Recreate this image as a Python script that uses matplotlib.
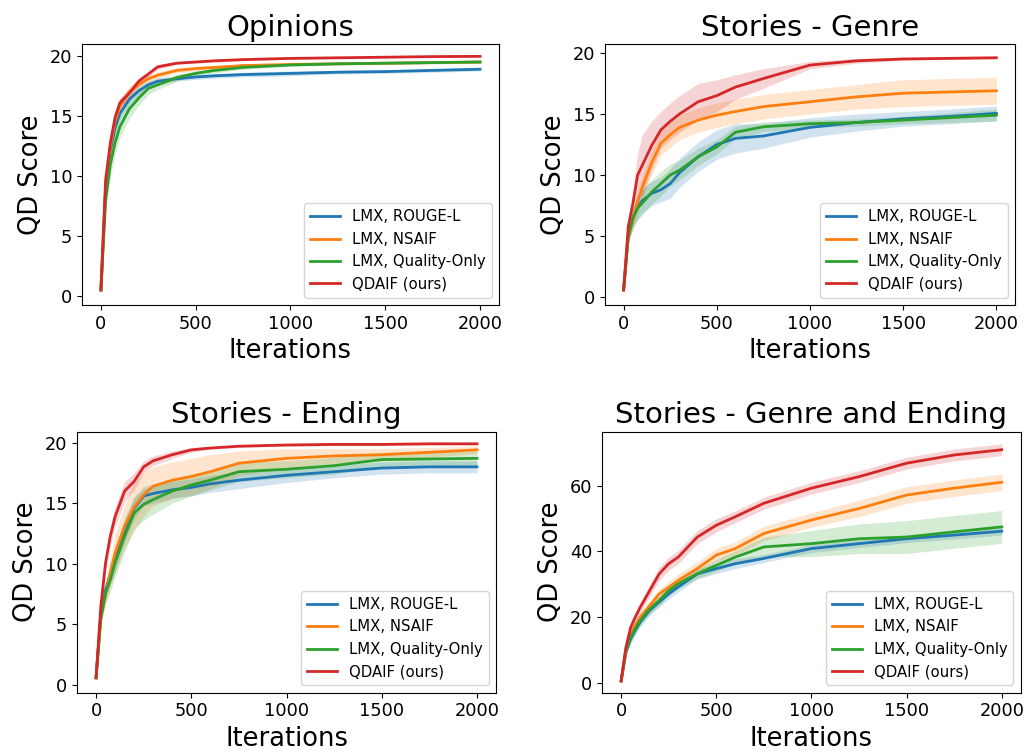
import numpy as np
import matplotlib
matplotlib.use('Agg')
import matplotlib.pyplot as plt

iters = [0, 25, 50, 75, 100, 150, 200, 250, 300, 400, 500, 600, 750, 1000, 1250, 1500, 1750, 2000]
labels = ['LMX, ROUGE-L', 'LMX, NSAIF', 'LMX, Quality-Only', 'QDAIF (ours)']
colors = ['#1f77b4', '#ff7f0e', '#2ca02c', '#d62728']

# Opinions
op_rouge = [0.5, 9.0, 12.2, 14.0, 15.2, 16.4, 17.1, 17.6, 17.9, 18.1, 18.25, 18.35, 18.45, 18.55, 18.65, 18.7, 18.8, 18.9]
op_nsaif = [0.5, 9.3, 12.5, 14.6, 15.8, 17.0, 17.6, 18.1, 18.4, 18.8, 18.95, 19.05, 19.2, 19.3, 19.35, 19.4, 19.45, 19.5]
op_quality = [0.5, 8.0, 11.0, 12.8, 14.1, 15.6, 16.5, 17.3, 17.6, 18.2, 18.55, 18.8, 19.05, 19.25, 19.35, 19.4, 19.45, 19.5]
op_qdaif = [0.5, 9.7, 12.8, 14.9, 16.1, 16.9, 17.9, 18.5, 19.1, 19.4, 19.5, 19.6, 19.7, 19.8, 19.85, 19.9, 19.95, 19.97]
op_rouge_sd = [0.1, 0.6, 0.6, 0.5, 0.5, 0.4, 0.4, 0.3, 0.3, 0.2, 0.2, 0.2, 0.2, 0.2, 0.15, 0.15, 0.15, 0.15]
op_nsaif_sd = [0.1, 0.6, 0.6, 0.6, 0.6, 0.5, 0.4, 0.3, 0.3, 0.2, 0.2, 0.15, 0.15, 0.1, 0.1, 0.1, 0.1, 0.1]
op_quality_sd = [0.1, 0.8, 1.0, 1.0, 0.9, 0.8, 0.6, 0.5, 0.4, 0.3, 0.2, 0.2, 0.15, 0.1, 0.1, 0.1, 0.1, 0.1]
op_qdaif_sd = [0.1, 0.5, 0.5, 0.5, 0.4, 0.4, 0.3, 0.2, 0.2, 0.1, 0.1, 0.1, 0.1, 0.05, 0.05, 0.05, 0.05, 0.05]

# Stories - Genre
sg_rouge = [0.6, 5.0, 6.5, 7.4, 7.9, 8.5, 8.8, 9.3, 10.2, 11.5, 12.5, 13.0, 13.2, 13.9, 14.3, 14.6, 14.8, 15.05]
sg_nsaif = [0.6, 5.0, 6.3, 7.8, 9.0, 11.0, 12.6, 13.3, 13.9, 14.5, 14.9, 15.2, 15.6, 16.0, 16.4, 16.7, 16.8, 16.9]
sg_quality = [0.6, 5.0, 6.5, 7.3, 7.7, 8.6, 9.3, 10.0, 10.4, 11.5, 12.3, 13.5, 13.95, 14.2, 14.3, 14.5, 14.7, 14.9]
sg_qdaif = [0.6, 5.8, 7.7, 10.0, 10.8, 12.4, 13.7, 14.4, 15.0, 16.0, 16.5, 17.2, 17.9, 19.0, 19.35, 19.5, 19.55, 19.6]
sg_rouge_sd = [0.1, 0.5, 0.8, 1.0, 1.0, 1.0, 1.0, 1.2, 1.2, 1.2, 1.2, 1.2, 1.0, 0.8, 0.7, 0.6, 0.6, 0.6]
sg_nsaif_sd = [0.1, 0.5, 0.8, 1.0, 1.0, 1.0, 1.0, 1.0, 1.0, 1.0, 1.0, 1.0, 1.0, 1.0, 1.0, 1.1, 1.1, 1.1]
sg_quality_sd = [0.1, 0.5, 0.8, 1.0, 1.0, 1.0, 1.0, 0.9, 0.8, 0.7, 0.6, 0.5, 0.4, 0.3, 0.3, 0.3, 0.4, 0.5]
sg_qdaif_sd = [0.1, 0.6, 1.0, 1.8, 2.5, 2.0, 1.5, 1.5, 1.5, 1.5, 1.3, 1.0, 0.8, 0.3, 0.2, 0.1, 0.1, 0.1]

# Stories - Ending
se_rouge = [0.6, 5.8, 7.9, 9.1, 10.3, 12.8, 14.6, 15.6, 15.8, 16.1, 16.3, 16.6, 16.9, 17.3, 17.6, 17.9, 18.0, 18.0]
se_nsaif = [0.6, 5.5, 7.5, 9.3, 10.9, 13.1, 14.7, 15.7, 16.4, 16.9, 17.2, 17.6, 18.3, 18.7, 18.9, 19.0, 19.2, 19.4]
se_quality = [0.6, 5.5, 7.6, 8.7, 10.1, 12.3, 14.2, 14.9, 15.3, 16.0, 16.5, 16.9, 17.6, 17.8, 18.1, 18.6, 18.65, 18.7]
se_qdaif = [0.6, 6.5, 10.1, 12.3, 13.9, 16.0, 16.8, 18.0, 18.5, 19.0, 19.4, 19.55, 19.7, 19.8, 19.85, 19.85, 19.9, 19.9]
se_rouge_sd = [0.1, 0.4, 0.6, 0.8, 1.0, 1.0, 0.9, 0.8, 0.8, 0.7, 0.7, 0.7, 0.7, 0.6, 0.5, 0.5, 0.5, 0.5]
se_nsaif_sd = [0.1, 0.5, 0.8, 1.2, 1.5, 1.8, 2.0, 1.8, 1.6, 1.5, 1.5, 1.4, 1.0, 0.8, 0.6, 0.5, 0.4, 0.3]
se_quality_sd = [0.1, 0.5, 0.8, 1.0, 1.2, 1.3, 1.3, 1.3, 1.2, 1.0, 0.9, 0.8, 0.8, 0.7, 0.7, 0.6, 0.6, 0.6]
se_qdaif_sd = [0.1, 0.5, 0.7, 0.8, 0.8, 0.8, 0.7, 0.5, 0.4, 0.3, 0.2, 0.1, 0.1, 0.1, 0.1, 0.1, 0.1, 0.1]

# Stories - Genre and Ending
sge_rouge = [0.5, 9.3, 13.3, 16.0, 18.4, 22.0, 24.5, 27.0, 29.1, 33.1, 34.7, 36.2, 37.8, 40.8, 42.3, 43.8, 44.9, 46.1]
sge_nsaif = [0.5, 10.0, 14.8, 17.5, 19.9, 23.4, 27.0, 29.0, 31.1, 34.7, 38.8, 40.8, 45.4, 49.5, 53.0, 57.1, 59.2, 61.0]
sge_quality = [0.5, 9.5, 13.8, 16.5, 18.9, 22.4, 25.0, 28.0, 30.1, 33.1, 35.7, 38.2, 41.3, 42.3, 43.8, 44.3, 45.9, 47.4]
sge_qdaif = [0.5, 10.7, 16.8, 20.0, 22.9, 28.0, 33.1, 36.2, 38.2, 44.3, 47.9, 50.5, 54.6, 59.2, 62.7, 66.8, 69.3, 70.9]
sge_rouge_sd = [0.3, 1.0, 1.5, 1.5, 1.5, 1.5, 1.5, 1.5, 1.5, 1.5, 1.5, 1.5, 1.2, 1.2, 1.2, 1.2, 1.2, 1.2]
sge_nsaif_sd = [0.3, 1.0, 1.5, 1.5, 1.5, 1.5, 1.5, 1.8, 2.0, 2.0, 2.0, 2.0, 2.2, 2.2, 2.5, 2.5, 2.5, 2.5]
sge_quality_sd = [0.3, 1.0, 1.5, 1.5, 1.5, 1.5, 1.5, 1.5, 1.5, 1.5, 1.8, 2.0, 3.0, 4.0, 4.5, 5.0, 5.0, 5.0]
sge_qdaif_sd = [0.3, 1.0, 1.5, 1.5, 1.5, 1.8, 2.0, 2.0, 2.0, 2.0, 2.0, 1.8, 1.8, 1.8, 1.8, 1.8, 1.8, 1.8]

panels = [
    ('Opinions', [op_rouge, op_nsaif, op_quality, op_qdaif],
     [op_rouge_sd, op_nsaif_sd, op_quality_sd, op_qdaif_sd], (-0.75, 21.0), 5,
     [0.0795, 0.5966, 0.4045, 0.3452]),
    ('Stories - Genre', [sg_rouge, sg_nsaif, sg_quality, sg_qdaif],
     [sg_rouge_sd, sg_nsaif_sd, sg_quality_sd, sg_qdaif_sd], (-0.63, 20.7), 5,
     [0.5868, 0.5966, 0.3977, 0.3448]),
    ('Stories - Ending', [se_rouge, se_nsaif, se_quality, se_qdaif],
     [se_rouge_sd, se_nsaif_sd, se_quality_sd, se_qdaif_sd], (-0.63, 20.9), 5,
     [0.0747, 0.0837, 0.4064, 0.3453]),
    ('Stories - Genre and Ending', [sge_rouge, sge_nsaif, sge_quality, sge_qdaif],
     [sge_rouge_sd, sge_nsaif_sd, sge_quality_sd, sge_qdaif_sd], (-3.1, 76.4), 20,
     [0.584, 0.0837, 0.4061, 0.3453]),
]

fig = plt.figure(figsize=(10.31, 7.56), dpi=100)
x = np.array(iters)
for title, means, sds, ylim, ystep, pos in panels:
    ax = fig.add_axes(pos)
    for m, s, lab, col in zip(means, sds, labels, colors):
        m = np.array(m)
        s = np.array(s)
        ax.fill_between(x, m - s, m + s, color=col, alpha=0.2, linewidth=0)
        ax.plot(x, m, color=col, lw=2, label=lab)
    ax.set_ylim(*ylim)
    ax.set_yticks(np.arange(0, ylim[1], ystep))
    ax.set_xticks([0, 500, 1000, 1500, 2000])
    ax.set_title(title, fontsize=21)
    ax.set_xlabel('Iterations', fontsize=18.5)
    ax.set_ylabel('QD Score', fontsize=18.5)
    ax.tick_params(labelsize=12.8)
    ax.legend(loc='lower right', fontsize=10.7)

fig.savefig('out.png', dpi=100)
